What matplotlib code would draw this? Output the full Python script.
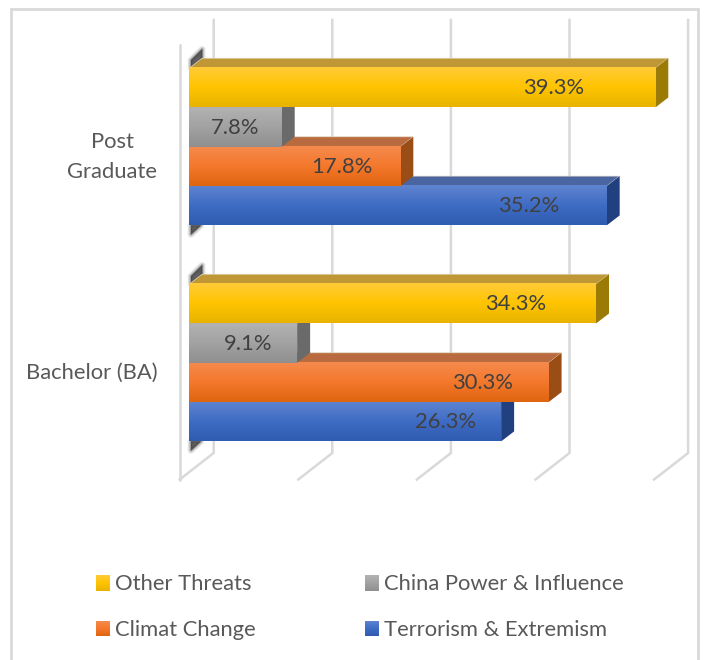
import numpy as np
import matplotlib
matplotlib.use('Agg')
import matplotlib.pyplot as plt
from matplotlib.patches import Polygon, Rectangle

plt.rcParams['font.family'] = ['Lato', 'DejaVu Sans']

categories = ['Bachelor (BA)', 'Post\nGraduate']
series_names = ['Terrorism & Extremism', 'Climat Change', 'China Power & Influence', 'Other Threats']
terrorism = [26.3, 35.2]
climate = [30.3, 17.8]
china = [9.1, 7.8]
other = [34.3, 39.3]
grid_values = [0, 10, 20, 30, 40]

# top, middle, bottom of the front face, then top face and side face
blue_cols = ['#5f84d0', '#3f6cc4', '#2f5cb0', '#4a659f', '#20407f']
orange_cols = ['#f58a4e', '#f4782c', '#e0650f', '#b96a3e', '#9a4d14']
grey_cols = ['#b2b2b2', '#a2a2a2', '#8f8f8f', '#6e6e6e', '#6a6a6a']
yellow_cols = ['#ffcb38', '#ffc400', '#e8b400', '#bf9835', '#9c7a06']
text_col = '#404040'
legend_col = '#595959'
grid_col = '#d9d9d9'
fsize = 15.8

W, H = 704, 660
px_x = 11.86  # pixels per percent
px_y = 216.0  # pixels per category
x0_px = 189.2
y0_px = 362.8
bar_h = 39.3 / px_y
depth_x = 13 / px_x
depth_y = 10 / px_y

# where the value labels sit, centre in percent units, per series and category
label_x = [[21.6, 28.6], [24.7, 12.9], [5.0, 3.9], [27.5, 30.7]]


def to_x(px):
    return (px - x0_px) / px_x


def to_y(py):
    return (y0_px - py) / px_y


fig = plt.figure(figsize=(W / 100, H / 100), dpi=100)
ax = fig.add_axes([0, 0, 1, 1])
ax.axis('off')


def gradient(cols):
    stops = np.linspace(0, 1, 64)
    rgb = np.array([matplotlib.colors.to_rgb(c) for c in cols[:3]])
    img = np.stack([np.interp(stops, [0, 0.5, 1], rgb[:, i]) for i in range(3)], axis=1)
    return img[:, None, :]


def bar3d(val, y, cols, z):
    top = y + bar_h / 2
    bot = y - bar_h / 2
    ax.add_patch(Polygon([(0, top), (depth_x, top + depth_y), (val + depth_x, top + depth_y), (val, top)],
                         fc=cols[3], ec='#e6d8c4', lw=0.5, zorder=z))
    ax.add_patch(Polygon([(val, top), (val + depth_x, top + depth_y), (val + depth_x, bot + depth_y), (val, bot)],
                         fc=cols[4], ec='none', zorder=z))
    ax.imshow(gradient(cols), extent=(0, val, bot, top), origin='upper', aspect='auto',
              zorder=z + 0.5, interpolation='bilinear')


def soft_poly(pts, col):
    # stacked wide edges give the blurred shadow look
    for lw, a in [(5, 0.08), (3.5, 0.14), (2, 0.22), (0.8, 0.3), (0, 0.5)]:
        ax.add_patch(Polygon(pts, fc=col, ec=col if lw else 'none', lw=lw, alpha=a, zorder=2, joinstyle='round'))


# chart frame
ax.add_patch(Rectangle((to_x(11), to_y(720)), 687 / px_x, 711 / px_y,
                       fc='white', ec=grid_col, lw=2, zorder=0))

# back wall and floor lines
wall_top = to_y(20)
wall_bot = to_y(453)
floor_bot = to_y(479.5)
for g in grid_values:
    xb = g + 24.5 / px_x
    xf = xb - 34 / px_x
    ax.plot([xb, xb, xf], [wall_top, wall_bot, floor_bot], color=grid_col, lw=1.8,
            solid_joinstyle='miter', zorder=1)
ax.plot([to_x(180), to_x(180)], [floor_bot, to_y(45)], color=grid_col, lw=1.8, zorder=1)

# dark smudges on the side wall above and below each group
for c in range(2):
    top = c + 2 * bar_h
    bot = c - 2 * bar_h
    soft_poly([(0.15, top), (depth_x * 1.0, top + depth_y * 0.8), (depth_x * 1.0, top + depth_y * 1.9),
               (0.15, top + depth_y * 0.8)], '#3a3a3a')
    soft_poly([(0.15, bot), (depth_x * 0.9, bot), (0.15, bot - depth_y * 0.9)], '#3a3a3a')

# lower bars first, each upper bar covers the top face of the one below
all_series = [terrorism, climate, china, other]
all_cols = [blue_cols, orange_cols, grey_cols, yellow_cols]
for c in range(2):
    for s in range(4):
        y = c + (s - 1.5) * bar_h
        val = all_series[s][c]
        bar3d(val, y, all_cols[s], 3 + s)
        ax.text(label_x[s][c], y - 0.5 / px_y, f'{val:.1f}%', ha='center', va='center', fontsize=fsize,
                color=text_col, zorder=30)

# category labels
post, grad = categories[1].split('\n')
ax.text(to_x(112), to_y(142), post, ha='center', va='center', fontsize=fsize, color=legend_col)
ax.text(to_x(112), to_y(172), grad, ha='center', va='center', fontsize=fsize, color=legend_col)
ax.text(to_x(158), to_y(373), categories[0], ha='right', va='center', fontsize=fsize, color=legend_col)

# legend
leg_pos = [(3, 96, 583.5), (2, 365, 583.5), (1, 96, 628.5), (0, 365, 628.5)]
for s, lx, ly in leg_pos:
    x = to_x(lx)
    y = to_y(ly)
    size_x = 14 / px_x
    size_y = 15 / px_y
    ax.imshow(gradient(all_cols[s]), extent=(x, x + size_x, y - size_y / 2, y + size_y / 2), origin='upper',
              aspect='auto', zorder=30)
    ax.text(x + 19 / px_x, y - 1 / px_y, series_names[s], ha='left', va='center', fontsize=fsize,
            color=legend_col, zorder=30)

ax.set_xlim(to_x(0), to_x(W))
ax.set_ylim(to_y(H), to_y(0))

fig.savefig('out.png', dpi=100)
